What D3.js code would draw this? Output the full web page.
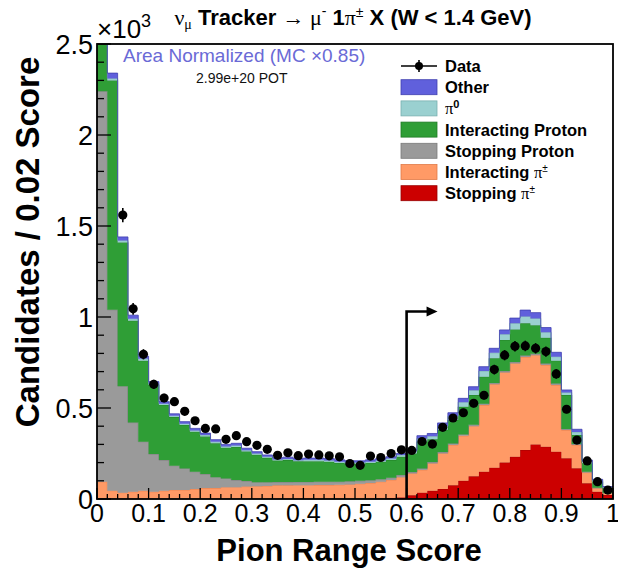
<!DOCTYPE html>
<html><head><meta charset="utf-8">
<script src="https://cdn.jsdelivr.net/npm/d3@7"></script>
<style>
html,body{margin:0;padding:0;background:#fff;overflow:hidden}
svg{display:block;font-family:"Liberation Sans",Arial,Helvetica,sans-serif}
</style></head><body>
<svg id="chart" width="618" height="574"></svg>
<script>
// Pion range score histogram, 50 bins of width 0.02 (counts per bin)
const binWidth = 0.02;
const nBins = 50;

const stoppingPion = [0,0,0,0,0,0,0,0,0,0,0,0,0,0,0,0,0,0,0,0,0,0,0,0,0,0,
  2,3,5,8,20,35,45,55,75,100,125,150,172,200,232,269,300,287,260,224,169,86,40,22];
const interactingPion = [95,46,35,40,45,40,45,50,50,55,60,60,65,65,68,70,72,75,75,76,
  76,77,77,78,80,84,86,92,100,112,120,125,150,195,222,247,275,366,458,495,
  513,511,490,449,366,155,128,59,19,9];
const stoppingProton = [2145,994,585,380,270,207,169,133,118,95,77,60,48,39,31,22,20,18,18,18,
  18,18,18,17,17,16,15,14,12,12,8,8,8,8,8,8,8,8,8,8,8,8,8,8,8,6,5,5,3,2];
const interactingProton = [410,1260,790,560,445,379,303,267,239,220,207,186,169,182,162,151,134,118,121,113,
  114,113,110,103,96,93,95,96,97,100,102,147,125,122,129,152,163,148,135,171,
  179,177,157,142,126,186,50,46,33,26];
const pi0 = [15,10,10,10,10,7,7,7,7,7,7,8,7,8,7,7,6,6,6,6,
  7,7,7,7,7,7,7,7,8,10,12,18,17,20,21,25,26,31,30,31,
  33,38,37,30,22,14,16,10,7,5];
const other = [25,30,20,20,15,12,11,11,11,11,11,12,11,12,11,10,10,10,10,10,
  10,10,10,10,10,10,10,10,10,8,10,15,15,18,19,21,20,24,25,24,
  29,35,32,26,24,14,15,8,6,4];
const dataCounts = [3100,2620,1560,1045,795,630,555,535,482,430,388,385,328,348,315,295,273,240,254,238,
  247,242,237,232,195,185,236,228,250,270,267,316,302,394,445,474,526,570,711,790,
  839,841,828,810,687,493,324,209,95,49];

const xTickLabels = ["0","0.1","0.2","0.3","0.4","0.5","0.6","0.7","0.8","0.9","1"];
const yTickValues = [0,500,1000,1500,2000,2500];
const yTickLabels = ["0","0.5","1","1.5","2","2.5"];
const cutValue = 0.6;       // pion selection cut
const arrowHeight = 1030;   // arrow drawn at this height (candidates)
const arrowEnd = 0.66;

const layers = [
  {key:"stopPi",  name:"Stopping π±",        values:stoppingPion,      fill:"#cc0000", edge:"#990000"},
  {key:"intPi",   name:"Interacting π±",     values:interactingPion,   fill:"#ff9a66", edge:"#e07a48"},
  {key:"stopP",   name:"Stopping Proton",    values:stoppingProton,    fill:"#9a9a9a", edge:"#7a7a7a"},
  {key:"intP",    name:"Interacting Proton", values:interactingProton, fill:"#2f9e36", edge:"#1f7a25"},
  {key:"pi0",     name:"π0",                 values:pi0,               fill:"#9ad0d0", edge:"#78b0b0"},
  {key:"other",   name:"Other",              values:other,             fill:"#6060dc", edge:"#4040b0"}
];

const svg = d3.select("#chart");
const x = d3.scaleLinear().domain([0,1]).range([97,613]);
const y = d3.scaleLinear().domain([0,2500]).range([499,44]);

svg.append("defs").append("clipPath").attr("id","plotClip")
  .append("rect").attr("x",x(0)).attr("y",y(2500)).attr("width",x(1)-x(0)).attr("height",y(0)-y(2500));

// stacked histogram
const rows = d3.range(nBins).map(i => {
  const r = {lo:i*binWidth, hi:(i+1)*binWidth};
  layers.forEach(l => r[l.key] = l.values[i]);
  return r;
});
const stack = d3.stack().keys(layers.map(l=>l.key))(rows);

const plot = svg.append("g").attr("clip-path","url(#plotClip)");
const area = d3.area().x(d=>x(d.x)).y0(d=>y(d.y0)).y1(d=>y(d.y1));
const topLine = d3.line().x(d=>x(d.x)).y(d=>y(d.y1));
stack.forEach((s,li) => {
  const pts = [];
  s.forEach(d => {
    pts.push({x:d.data.lo, y0:d[0], y1:d[1]});
    pts.push({x:d.data.hi, y0:d[0], y1:d[1]});
  });
  plot.append("path").attr("d",area(pts)).attr("fill",layers[li].fill).attr("stroke","none");
  plot.append("path").attr("d",topLine(pts)).attr("fill","none")
    .attr("stroke",layers[li].edge).attr("stroke-width",0.8);
});

// axis ticks (drawn inside the frame)
const tickG = svg.append("g").attr("stroke","#000");
d3.range(0, nBins+1).forEach(i => {
  const major = i % 5 === 0;
  const xv = i*binWidth;
  tickG.append("line").attr("x1",x(xv)).attr("x2",x(xv))
    .attr("y1",y(0)).attr("y2",y(0)-(major?11:5)).attr("stroke-width",1.3);
});
d3.range(0, 26).forEach(i => {
  const major = i % 5 === 0;
  const yv = i*100;
  tickG.append("line").attr("x1",x(0)).attr("x2",x(0)+(major?14:7))
    .attr("y1",y(yv)).attr("y2",y(yv)).attr("stroke-width",1.3);
});

// cut arrow
const arrowG = svg.append("g");
arrowG.append("path")
  .attr("d",`M${x(cutValue)},${y(0)}V${y(arrowHeight)}H${x(arrowEnd)-8}`)
  .attr("fill","none").attr("stroke","#000").attr("stroke-width",2.6);
arrowG.append("path")
  .attr("d",`M${x(arrowEnd)},${y(arrowHeight)}l-11,-5v10z`).attr("fill","#000");

// data points with Poisson error bars
const dataG = svg.append("g").attr("clip-path","url(#plotClip)");
dataCounts.forEach((v,i) => {
  if (v > 2500) return;
  const cx = x((i+0.5)*binWidth);
  const e = Math.sqrt(v);
  dataG.append("line").attr("x1",cx).attr("x2",cx).attr("y1",y(v+e)).attr("y2",y(v-e))
    .attr("stroke","#000").attr("stroke-width",1.6);
  dataG.append("circle").attr("cx",cx).attr("cy",y(v)).attr("r",4.6).attr("fill","#000");
});

// frame
svg.append("rect").attr("x",x(0)).attr("y",y(2500)).attr("width",x(1)-x(0)).attr("height",y(0)-y(2500))
  .attr("fill","none").attr("stroke","#000").attr("stroke-width",1.8);

// tick labels
svg.append("g").selectAll("text").data(xTickLabels).join("text")
  .attr("x",(d,i)=>x(i*0.1)).attr("y",522).attr("text-anchor","middle")
  .attr("font-size",25).text(d=>d);
svg.append("g").selectAll("text").data(yTickLabels).join("text")
  .attr("x",93).attr("y",(d,i)=>y(yTickValues[i])).attr("dy","0.36em").attr("text-anchor","end")
  .attr("font-size",27).text(d=>d);

// exponent
const ex = svg.append("text").attr("x",97).attr("y",38).attr("font-size",26);
ex.append("tspan").text("×10");
ex.append("tspan").attr("font-size",18).attr("dy",-11).text("3");

// axis titles
svg.append("text").attr("x",349).attr("y",561).attr("text-anchor","middle")
  .attr("font-size",31).attr("font-weight","bold").text("Pion Range Score");
svg.append("text").attr("transform","translate(39,242) rotate(-90)").attr("text-anchor","middle")
  .attr("font-size",33).attr("font-weight","bold").text("Candidates / 0.02 Score");

// title
const serif = "'Liberation Serif','DejaVu Serif',serif";
const t = svg.append("text").attr("x",353).attr("y",25).attr("text-anchor","middle").attr("font-size",22);
t.append("tspan").attr("font-family",serif).text("ν");
t.append("tspan").attr("font-family",serif).attr("font-size",14).attr("dy",4).text("μ");
t.append("tspan").attr("font-weight","bold").attr("dy",-4).text(" Tracker ");
t.append("tspan").attr("font-family",serif).text("→ μ");
t.append("tspan").attr("font-size",14).attr("dy",-9).text("-");
t.append("tspan").attr("font-weight","bold").attr("dy",9).text(" 1");
t.append("tspan").attr("font-family",serif).text("π");
t.append("tspan").attr("font-size",14).attr("dy",-8).text("±");
t.append("tspan").attr("font-weight","bold").attr("dy",8).text(" X  (W < 1.4 GeV)");

// annotations
svg.append("text").attr("x",123).attr("y",62).attr("font-size",19).attr("fill","#6a6ad6")
  .text("Area Normalized (MC ×0.85)");
svg.append("text").attr("x",196).attr("y",83).attr("font-size",14).attr("fill","#111")
  .text("2.99e+20 POT");

// legend
const leg = svg.append("g");
const legX = 401, legW = 36, legY0 = 66, legDY = 21.2;
leg.append("line").attr("x1",legX).attr("x2",legX+legW).attr("y1",legY0).attr("y2",legY0)
  .attr("stroke","#000").attr("stroke-width",1.6);
leg.append("line").attr("x1",legX+legW/2).attr("x2",legX+legW/2).attr("y1",legY0-6).attr("y2",legY0+6)
  .attr("stroke","#000").attr("stroke-width",1.6);
leg.append("circle").attr("cx",legX+legW/2).attr("cy",legY0).attr("r",4).attr("fill","#000");
leg.append("text").attr("x",445).attr("y",legY0).attr("dy","0.36em").attr("font-size",16.5)
  .attr("font-weight","bold").text("Data");
const legOrder = layers.slice().reverse();
legOrder.forEach((l,i) => {
  const cy = legY0 + (i+1)*legDY;
  leg.append("rect").attr("x",legX).attr("y",cy-7.5).attr("width",legW).attr("height",15)
    .attr("fill",l.fill).attr("stroke",l.edge).attr("stroke-width",0.8);
  const tx = leg.append("text").attr("x",445).attr("y",cy).attr("dy","0.36em").attr("font-size",16.5)
    .attr("font-weight","bold");
  if (l.key === "pi0") {
    tx.append("tspan").attr("font-family",serif).attr("font-weight","normal").text("π");
    tx.append("tspan").attr("font-size",11).attr("dy",-6).text("0");
  } else if (l.key === "intPi" || l.key === "stopPi") {
    tx.append("tspan").text(l.name.replace(" π±"," "));
    tx.append("tspan").attr("font-family",serif).attr("font-weight","normal").text("π");
    tx.append("tspan").attr("font-size",10).attr("font-weight","normal").attr("dy",-6).text("±");
  } else {
    tx.text(l.name);
  }
});
</script>
</body></html>
